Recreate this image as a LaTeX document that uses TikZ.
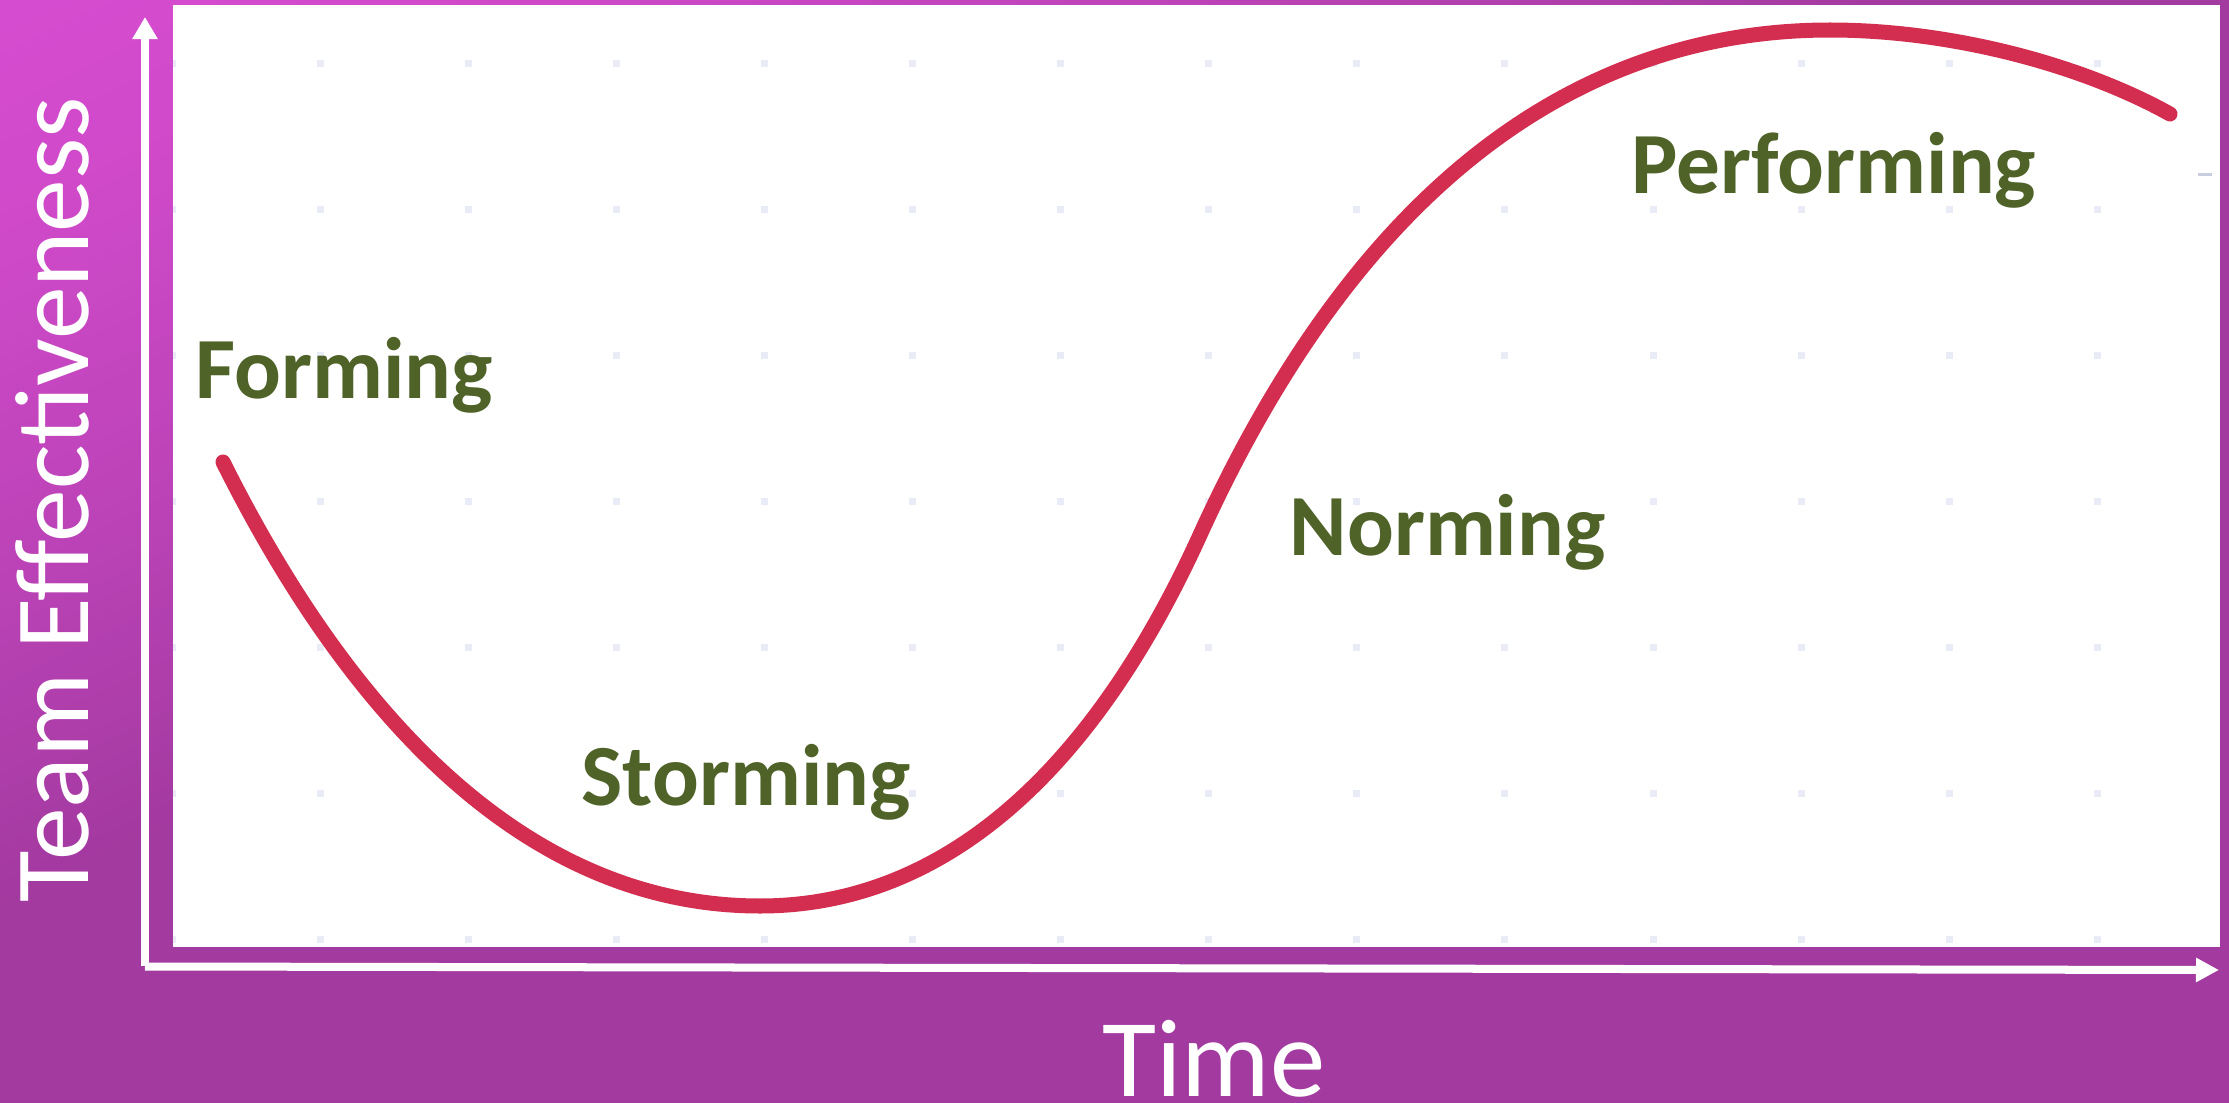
\documentclass[tikz,border=0pt]{standalone}
\usepackage{fontspec}
\setmainfont{Carlito}
\usetikzlibrary{arrows.meta}

\definecolor{bgmag}{HTML}{D64CD0}
\definecolor{bgpur}{HTML}{A33AA0}
\definecolor{curvered}{HTML}{D32D4F}
\definecolor{stagegreen}{HTML}{4F6228}
\definecolor{griddot}{HTML}{E9EBF6}
\definecolor{straymark}{HTML}{C9CDE0}

\tikzset{
  axisline/.style={white, line width=0.08cm, line cap=butt},
  stagecurve/.style={curvered, line width=0.15cm, line cap=round},
  stage/.style={text=stagegreen, inner sep=0pt, font=\bfseries\fontsize{24.8pt}{30pt}\selectfont},
  axislabel/.style={text=white, inner sep=0pt},
}

\begin{document}
\begin{tikzpicture}[x=0.01cm, y=-0.01cm]
  % backdrop: purple, warming to magenta towards the upper left corner
  \useasboundingbox (0,0) rectangle (2229,1103);
  \fill[bgpur] (0,0) rectangle (2229,1103);
  \foreach \i in {50,49,...,1}{
    \pgfmathsetmacro\g{\i/50}
    \pgfmathsetmacro\p{100*(1-((\i-0.5)/50)^1.4)}
    \fill[bgmag!\p!bgpur] (0,0) -- ({1900*\g},0) -- (0,{900*\g}) -- cycle;
  }

  % white plotting panel with its faint dot grid
  \fill[white] (173,5) rectangle (2220,947);
  \begin{scope}
    \clip (173,5) rectangle (2220,947);
    \foreach \i in {0,...,13}
      \foreach \j in {0,...,6}
        \fill[griddot] ({172+148.1*\i-3.5},{63+146*\j-3.5}) rectangle ++(7,7);
  \end{scope}
  \draw[straymark, line width=0.03cm] (2198,174) -- (2212,174);

  % axes
  \coordinate (origin) at (145,966);
  \coordinate (ytip) at (145,17);
  \coordinate (xorigin) at (145,966.5);
  \coordinate (xtip) at (2219,970);
  \draw[axisline, -{Triangle[width=0.24cm, length=0.22cm]}] (origin) -- (ytip);
  \draw[axisline, -{Triangle[width=0.23cm, length=0.23cm]}] (xorigin) -- (xtip);

  % team development curve
  \draw[stagecurve] (223,462)
    .. controls (353,722) and (530,906) .. (760,906)
    .. controls (940,906) and (1090,777) .. (1200,535)
    .. controls (1360,183) and (1580,30) .. (1830,30)
    .. controls (1950,30) and (2080,64) .. (2170,114);

  % stage labels
  \node[stage, anchor=base west] (forming) at (195,398) {Forming};
  \node[stage, anchor=base west] (storming) at (581,805) {Storming};
  \node[stage, anchor=base west] (norming) at (1289,555) {Norming};
  \node[stage, anchor=base west] (performing) at (1631,193) {Performing};

  % axis titles
  \node[axislabel, anchor=base, font=\fontsize{31.5pt}{36pt}\selectfont] (time) at (1214,1096) {Time};
  \node[axislabel, anchor=base, rotate=90, font=\fontsize{30pt}{36pt}\selectfont] (effect) at (88,500) {Team Effectiveness};
\end{tikzpicture}
\end{document}
